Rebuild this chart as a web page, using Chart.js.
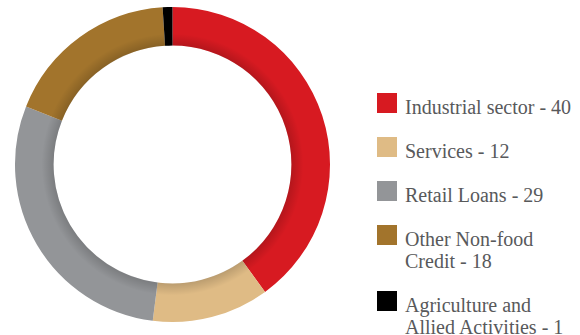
<!DOCTYPE html>
<html>
<head>
<meta charset="utf-8">
<script src="https://cdn.jsdelivr.net/npm/chart.js@4.4.1/dist/chart.umd.min.js"></script>
<style>
  html, body { margin: 0; padding: 0; background: #fff; }
  body { width: 580px; height: 335px; position: relative; overflow: hidden; }
  #pie { position: absolute; left: 0; top: 0; }
  #legend {
    position: absolute; left: 377px; top: 96px;
    font-family: "Liberation Serif", serif; font-size: 20px; color: #58595b;
  }
  .item { display: flex; align-items: flex-start; margin-bottom: 22px; }
  .box { width: 20px; height: 20px; margin-top: -3px; margin-right: 8px; flex: none; }
  .txt { line-height: 22px; white-space: pre-line; }
</style>
</head>
<body>
<canvas id="pie" width="345" height="335"></canvas>
<div id="legend"></div>
<script>
// loan book split, in per cent
var sectors = ['Industrial sector', 'Services', 'Retail Loans', 'Other Non-food\nCredit', 'Agriculture and\nAllied Activities'];
var shares = [40, 12, 29, 18, 1];
var colours = ['#d71a21', '#dfbb85', '#939598', '#a2742c', '#000000'];

// soft shading along the inside of the ring
var innerShade = {
  id: 'innerShade',
  afterDatasetsDraw: function(chart) {
    var arc = chart.getDatasetMeta(0).data[0];
    if (!arc) return;
    var c = chart.ctx, r0 = arc.innerRadius, r1 = arc.outerRadius;
    var g = c.createRadialGradient(arc.x, arc.y, r0, arc.x, arc.y, r0 + 12);
    g.addColorStop(0, 'rgba(0,0,0,0.16)');
    g.addColorStop(1, 'rgba(0,0,0,0)');
    c.save();
    c.beginPath();
    c.arc(arc.x, arc.y, r1, 0, Math.PI * 2);
    c.arc(arc.x, arc.y, r0, 0, Math.PI * 2, true);
    c.fillStyle = g;
    c.fill();
    c.restore();
  }
};

new Chart(document.getElementById('pie'), {
  type: 'doughnut',
  data: {
    labels: sectors,
    datasets: [{ data: shares, backgroundColor: colours, borderWidth: 0 }]
  },
  options: {
    responsive: false,
    animation: false,
    cutout: '75.5%',
    layout: { padding: { top: 7, bottom: 13, left: 15, right: 15 } },
    plugins: { legend: { display: false }, tooltip: { enabled: false } }
  },
  plugins: [innerShade]
});

var legend = document.getElementById('legend');
for (var i = 0; i < sectors.length; i++) {
  var row = document.createElement('div');
  row.className = 'item';
  row.innerHTML = '<span class="box" style="background:' + colours[i] + '"></span>' +
    '<span class="txt"></span>';
  row.lastChild.textContent = sectors[i] + ' - ' + shares[i];
  legend.appendChild(row);
}
</script>
</body>
</html>
